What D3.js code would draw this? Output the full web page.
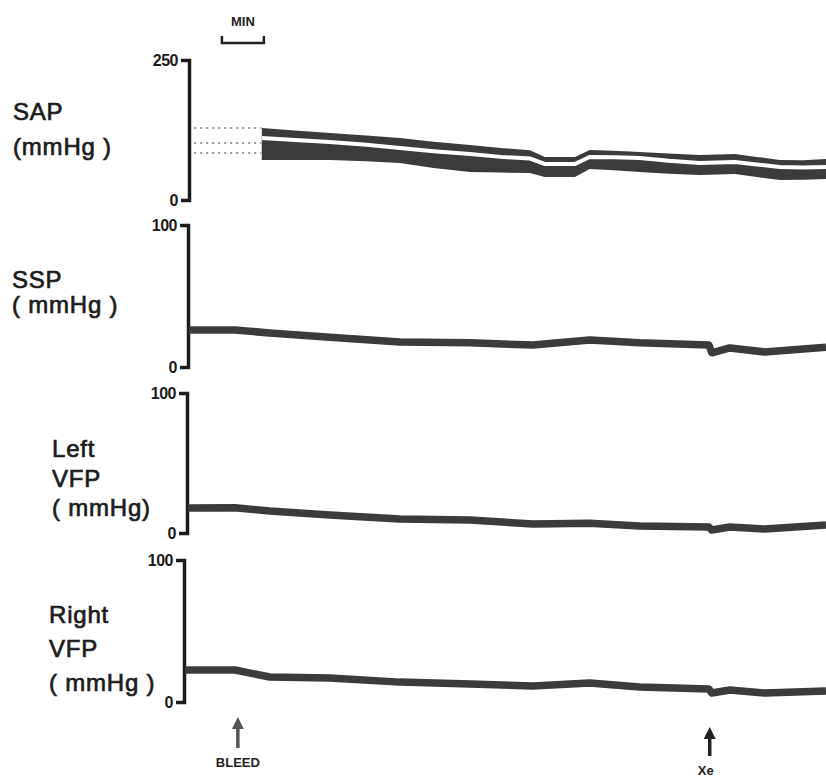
<!DOCTYPE html>
<html lang="en">
<head>
<meta charset="utf-8">
<title>SAP / SSP / VFP recording</title>
<script src="https://cdn.jsdelivr.net/npm/d3@7/dist/d3.min.js"></script>
<style>
    html, body { margin: 0; padding: 0; background: #fff; }
    svg { display: block; }
    /* labels in the original are a heavy sans, between regular and bold */
    .lbl { font-family: "Liberation Sans", Arial, sans-serif; font-size: 24px; letter-spacing: 0.8px; fill: #1c1c1c; stroke: #1c1c1c; stroke-width: 0.7px; }
    .tick text { font-family: "Liberation Sans", Arial, sans-serif; font-size: 16px; font-weight: bold; letter-spacing: -0.5px; fill: #1c1c1c; }
    .small { font-family: "Liberation Sans", Arial, sans-serif; font-size: 13px; font-weight: bold; fill: #222; }
</style>
</head>
<body>
<div id="chart"></div>
<script>
// time in minutes from start of record
var timeSpan = 15.15;
var minBarStart = 0.76;          // the 1 MIN scale bar
var bleedTime = 1.14;
var xeTime = 12.38;

// SAP: recorded as a band, systolic top edge, white gap, diastolic bottom edge (mmHg)
var sapTimes = [1.71, 2.5, 3.33, 4.2, 5.0, 5.8, 6.67, 7.4, 8.1, 8.45, 9.17, 9.52, 10.1, 10.71, 11.4, 12.14, 12.98, 13.5, 14.05, 14.6, 15.15];
var sapSys   = [128.6, 124.0, 119.6, 115.0, 110.7, 104.0, 98.2, 93.0, 89.0, 76.8, 76.8, 89.3, 88.0, 85.7, 83.0, 80.4, 82.0, 77.0, 71.4, 71.0, 73.0];
var sapGap   = [110.7, 107.0, 103.6, 98.5, 92.9, 87.0, 82.0, 77.0, 74.0, 64.3, 64.3, 76.8, 76.5, 75.0, 70.0, 66.0, 67.9, 63.5, 58.9, 58.0, 58.9];
var sapDia   = [71.4, 71.5, 71.4, 69.0, 66.0, 57.0, 50.0, 49.0, 48.2, 41.0, 41.0, 55.4, 53.0, 50.0, 47.0, 44.6, 46.4, 41.0, 35.7, 36.0, 37.5];
// faint trace before the paper speed change
var sapFaintTimes = [0.1, 1.7];
var sapFaintLevels = [128.6, 101.8, 83.9];

// SSP, left and right VFP (mmHg)
var lowTimes = [0, 1.07, 1.9, 3.33, 5.0, 6.67, 8.17, 9.52, 10.71, 12.36, 12.43, 12.86, 13.69, 15.15];
var sspVals   = [26.0, 26.0, 24.0, 21.0, 17.6, 17.0, 15.5, 19.0, 17.0, 15.5, 10.0, 13.4, 10.6, 14.0];
var leftVals  = [17.9, 18.0, 15.7, 12.9, 10.0, 9.3, 6.4, 7.0, 5.0, 4.3, 2.1, 4.3, 2.9, 5.7];
var rightVals = [22.5, 22.5, 17.6, 16.9, 14.0, 12.7, 11.3, 13.4, 10.6, 9.2, 6.3, 8.5, 6.3, 7.7];

var W = 826, H = 779;
var ink = "#3b3b3b";

var svg = d3.select("#chart").append("svg")
    .attr("width", W)
    .attr("height", H);

var x = d3.scaleLinear().domain([0, timeSpan]).range([190, 826]);

// panel layout
var panels = [
    { name: ["SAP", "(mmHg )"], labelX: 13, labelY: [120, 155], axisX: 189, top: 60, bottom: 200, max: 250 },
    { name: ["SSP", "( mmHg )"], labelX: 12, labelY: [288, 313], axisX: 188, top: 225, bottom: 367, max: 100 },
    { name: ["Left", "VFP", "( mmHg)"], labelX: 52, labelY: [457, 487, 516], axisX: 187, top: 393, bottom: 533, max: 100 },
    { name: ["Right", "VFP", "( mmHg )"], labelX: 49, labelY: [623, 657, 691], axisX: 184, top: 560, bottom: 702, max: 100 }
];

panels.forEach(function(p) {
    p.y = d3.scaleLinear().domain([0, p.max]).range([p.bottom, p.top]);

    var ax = svg.append("g")
        .attr("transform", "translate(" + p.axisX + ",0)")
        .call(d3.axisLeft(p.y).tickValues([0, p.max]).tickSize(8).tickSizeOuter(8).tickPadding(3));
    ax.select(".domain").attr("stroke", "#1c1c1c").attr("stroke-width", 3.5).attr("fill", "none");
    ax.selectAll(".tick line").attr("stroke", "#1c1c1c").attr("stroke-width", 2);

    var t = svg.append("text").attr("class", "lbl");
    p.name.forEach(function(s, i) {
        t.append("tspan").attr("x", p.labelX).attr("y", p.labelY[i]).text(s);
    });
});

// SAP band
var sap = panels[0];
var sapData = sapTimes.map(function(t, i) {
    return { t: t, sys: sapSys[i], gap: sapGap[i], dia: sapDia[i] };
});

svg.append("path")
    .datum(sapData)
    .attr("fill", ink)
    .attr("d", d3.area()
        .x(function(d) { return x(d.t); })
        .y0(function(d) { return sap.y(d.dia); })
        .y1(function(d) { return sap.y(d.sys); }));

svg.append("path")
    .datum(sapData)
    .attr("fill", "none")
    .attr("stroke", "#fff")
    .attr("stroke-width", 4)
    .attr("d", d3.line()
        .x(function(d) { return x(d.t); })
        .y(function(d) { return sap.y(d.gap); }));

sapFaintLevels.forEach(function(v) {
    svg.append("line")
        .attr("x1", x(sapFaintTimes[0])).attr("x2", x(sapFaintTimes[1]))
        .attr("y1", sap.y(v)).attr("y2", sap.y(v))
        .attr("stroke", "#999")
        .attr("stroke-width", 2)
        .attr("stroke-dasharray", "2,4");
});

// single traces
var series = [
    { panel: panels[1], vals: sspVals },
    { panel: panels[2], vals: leftVals },
    { panel: panels[3], vals: rightVals }
];

series.forEach(function(s) {
    var line = d3.line()
        .x(function(d, i) { return i === 0 ? s.panel.axisX + 1 : x(lowTimes[i]); })
        .y(function(d) { return s.panel.y(d); });
    svg.append("path")
        .datum(s.vals)
        .attr("fill", "none")
        .attr("stroke", ink)
        .attr("stroke-width", 7.5)
        .attr("stroke-linejoin", "round")
        .attr("d", line);
});

// 1 MIN scale bar
var mb0 = x(minBarStart), mb1 = x(minBarStart + 1);
svg.append("path")
    .attr("d", "M" + mb0 + ",36V43H" + mb1 + "V36")
    .attr("fill", "none")
    .attr("stroke", "#222")
    .attr("stroke-width", 2.5);
svg.append("text").attr("class", "small")
    .attr("x", (mb0 + mb1) / 2).attr("y", 26)
    .attr("text-anchor", "middle")
    .text("MIN");

// event arrows
function arrow(xp, tipY, baseY, col) {
    svg.append("line")
        .attr("x1", xp).attr("x2", xp)
        .attr("y1", tipY + 8).attr("y2", baseY)
        .attr("stroke", col).attr("stroke-width", 3.5);
    svg.append("path")
        .attr("d", "M" + xp + "," + tipY + "L" + (xp - 6) + "," + (tipY + 12) + "L" + (xp + 6) + "," + (tipY + 12) + "Z")
        .attr("fill", col);
}

arrow(x(bleedTime), 717, 748, "#555");
svg.append("text").attr("class", "small")
    .attr("x", x(bleedTime)).attr("y", 767)
    .attr("text-anchor", "middle")
    .text("BLEED");

arrow(x(xeTime), 727, 756, "#222");
svg.append("text").attr("class", "small")
    .attr("x", x(xeTime) - 4).attr("y", 775)
    .attr("text-anchor", "middle")
    .text("Xe");
</script>
</body>
</html>
